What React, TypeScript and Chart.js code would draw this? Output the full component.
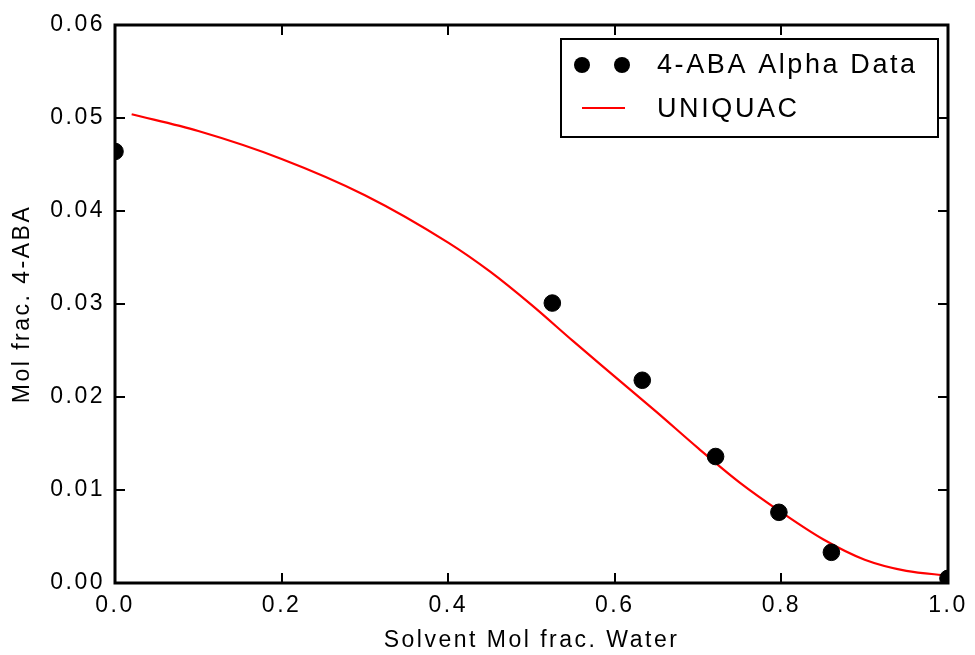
import React, { useEffect, useRef } from "react";
import { Chart, registerables } from "chart.js";

Chart.register(...registerables);

const dataX = [0.0, 0.525, 0.633, 0.721, 0.797, 0.86, 1.0];
const dataY = [0.0464, 0.0301, 0.0218, 0.0136, 0.0076, 0.0033, 0.0005];

const curveX = [0.02, 0.1, 0.2, 0.3, 0.4, 0.45, 0.5, 0.55, 0.6, 0.65, 0.7, 0.75, 0.8, 0.85, 0.9, 0.95, 1.0];
const curveY = [0.0504, 0.0486, 0.0456, 0.0417, 0.0366, 0.0335, 0.0299, 0.026, 0.0222, 0.0184, 0.0145, 0.0108, 0.0076, 0.0047, 0.0025, 0.0013, 0.0008];

const xTicks = [0, 0.2, 0.4, 0.6, 0.8, 1.0];
const yTicks = [0, 0.01, 0.02, 0.03, 0.04, 0.05, 0.06];

const seriesNames = ["4-ABA Alpha Data", "UNIQUAC"];

const FONT = "'Liberation Sans', Arial, sans-serif";

const framePlugin = {
  id: "framePlugin",
  beforeDraw(chart: any) {
    (chart.ctx as any).letterSpacing = "2.5px";
  },
  afterDraw(chart: any) {
    const { ctx, chartArea } = chart;
    const { left, right, top, bottom } = chartArea;
    const xs = chart.scales.x;
    const ys = chart.scales.y;
    ctx.save();
    ctx.strokeStyle = "#000";
    ctx.lineWidth = 2;
    const tl = 10;
    ctx.beginPath();
    xTicks.forEach((v) => {
      const px = Math.round(xs.getPixelForValue(v));
      ctx.moveTo(px, bottom);
      ctx.lineTo(px, bottom - tl);
      ctx.moveTo(px, top);
      ctx.lineTo(px, top + tl);
    });
    yTicks.forEach((v) => {
      const py = Math.round(ys.getPixelForValue(v));
      ctx.moveTo(left, py);
      ctx.lineTo(left + tl, py);
      ctx.moveTo(right, py);
      ctx.lineTo(right - tl, py);
    });
    ctx.stroke();
    ctx.lineWidth = 3;
    ctx.strokeRect(left, top, right - left, bottom - top);

    const lx = right - 387;
    const ly = top + 14;
    const lw = 377;
    const lh = 98;
    ctx.fillStyle = "#fff";
    ctx.fillRect(lx, ly, lw, lh);
    ctx.lineWidth = 2;
    ctx.strokeRect(lx, ly, lw, lh);
    const ds0 = chart.data.datasets[0];
    const ds1 = chart.data.datasets[1];
    const row1 = ly + 26;
    const row2 = ly + 71;
    ctx.fillStyle = ds0.backgroundColor;
    [lx + 21, lx + 61].forEach((cx) => {
      ctx.beginPath();
      ctx.arc(cx, row1, 8, 0, Math.PI * 2);
      ctx.fill();
    });
    ctx.strokeStyle = ds1.borderColor;
    ctx.lineWidth = 2;
    ctx.beginPath();
    ctx.moveTo(lx + 21, row2 - 2);
    ctx.lineTo(lx + 64, row2 - 2);
    ctx.stroke();
    ctx.fillStyle = "#000";
    ctx.font = `27px ${FONT}`;
    (ctx as any).letterSpacing = "2.6px";
    ctx.textAlign = "left";
    ctx.textBaseline = "middle";
    ctx.fillText(seriesNames[0], lx + 96, row1 + 1);
    ctx.fillText(seriesNames[1], lx + 96, row2);
    ctx.restore();
  },
};

export default function App() {
  const ref = useRef<HTMLCanvasElement | null>(null);
  useEffect(() => {
    document.body.style.margin = "0";
    const canvas = ref.current;
    if (!canvas) return;
    const chart = new Chart(canvas, {
      type: "scatter",
      data: {
        datasets: [
          {
            label: seriesNames[0],
            data: dataX.map((x, i) => ({ x, y: dataY[i] })),
            backgroundColor: "#000",
            borderColor: "#000",
            pointRadius: 8.3,
            pointHoverRadius: 8.3,
            showLine: false,
            clip: 0,
            order: 1,
          },
          {
            label: seriesNames[1],
            data: curveX.map((x, i) => ({ x, y: curveY[i] })),
            borderColor: "#ff0000",
            backgroundColor: "#ff0000",
            borderWidth: 2.2,
            pointRadius: 0,
            showLine: true,
            cubicInterpolationMode: "monotone",
            clip: 0,
            order: 2,
          },
        ],
      } as any,
      options: {
        animation: false,
        responsive: true,
        maintainAspectRatio: false,
        layout: { padding: { top: 25, right: 27, left: 0, bottom: 0 } },
        plugins: {
          legend: { display: false },
          tooltip: { enabled: false },
        },
        scales: {
          x: {
            type: "linear",
            min: 0,
            max: 1,
            afterFit: (s: any) => {
              s.height = 72;
            },
            afterBuildTicks: (s: any) => {
              s.ticks = xTicks.map((v) => ({ value: v }));
            },
            grid: { display: false, drawTicks: false },
            border: { display: false },
            ticks: {
              color: "#000",
              font: { family: FONT, size: 23 },
              padding: 9,
              maxRotation: 0,
              callback: (v: any) => Number(v).toFixed(1),
            },
            title: {
              display: true,
              text: "Solvent Mol frac. Water",
              color: "#000",
              font: { family: FONT, size: 23 },
              padding: { top: 0, bottom: 1 },
            },
          },
          y: {
            type: "linear",
            min: 0,
            max: 0.06,
            afterFit: (s: any) => {
              s.width = 115;
            },
            afterBuildTicks: (s: any) => {
              s.ticks = yTicks.map((v) => ({ value: v }));
            },
            grid: { display: false, drawTicks: false },
            border: { display: false },
            ticks: {
              color: "#000",
              font: { family: FONT, size: 23 },
              padding: 10,
              callback: (v: any) => Number(v).toFixed(2),
            },
            title: {
              display: true,
              text: "Mol frac. 4-ABA",
              color: "#000",
              font: { family: FONT, size: 23 },
              padding: { top: 9, bottom: 0 },
            },
          },
        },
      } as any,
      plugins: [framePlugin],
    });
    return () => chart.destroy();
  }, []);
  return (
    <div style={{ position: "absolute", left: 0, top: 0, width: 975, height: 655 }}>
      <canvas ref={ref} />
    </div>
  );
}
